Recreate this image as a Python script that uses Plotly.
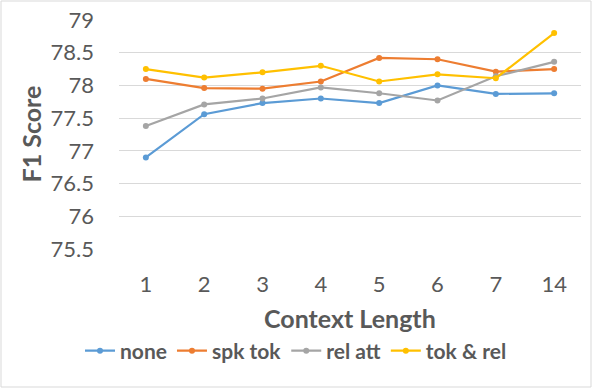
import plotly.graph_objects as go

# Context length categories (x axis is categorical: 14 sits right after 7)
context_lengths = ["1", "2", "3", "4", "5", "6", "7", "14"]

none_f1 = [76.90, 77.56, 77.73, 77.80, 77.73, 78.00, 77.87, 77.88]
spk_tok_f1 = [78.10, 77.96, 77.95, 78.06, 78.42, 78.40, 78.21, 78.25]
rel_att_f1 = [77.38, 77.71, 77.80, 77.97, 77.88, 77.77, 78.14, 78.36]
tok_rel_f1 = [78.25, 78.12, 78.20, 78.30, 78.06, 78.17, 78.11, 78.80]

y_ticks = [75.5, 76, 76.5, 77, 77.5, 78, 78.5, 79]

FONT = "Lato, 'Open Sans', sans-serif"
TEXT = "#595959"

W, H = 592, 388
L, R, T, B = 119, 11, 20, 139

series = [
    ("none", none_f1, "#5b9bd5"),
    ("spk tok", spk_tok_f1, "#ed7d31"),
    ("rel att", rel_att_f1, "#a5a5a5"),
    ("tok & rel", tok_rel_f1, "#ffc000"),
]

fig = go.Figure()
for name, vals, color in series:
    fig.add_trace(
        go.Scatter(
            x=context_lengths,
            y=vals,
            mode="lines+markers",
            name=name,
            line=dict(color=color, width=2.2),
            marker=dict(color=color, size=6),
        )
    )

fig.update_layout(
    width=W,
    height=H,
    paper_bgcolor="white",
    plot_bgcolor="white",
    margin=dict(l=L, r=R, t=T, b=B, autoexpand=False),
    font=dict(family=FONT, color=TEXT),
    showlegend=True,
    legend=dict(
        orientation="h",
        xref="container",
        yref="container",
        x=0.5,
        xanchor="center",
        y=1 - 351 / H,
        yanchor="middle",
        font=dict(size=21, family=FONT, color=TEXT, weight="bold"),
        itemwidth=30,
        tracegroupgap=0,
    ),
    shapes=[
        dict(
            type="rect", xref="paper", yref="paper",
            x0=-(L - 1) / (W - L - R), x1=1 + (R - 1) / (W - L - R),
            y0=-(B - 1) / (H - T - B), y1=1 + (T - 1) / (H - T - B),
            line=dict(color="#d9d9d9", width=1),
        )
    ],
    annotations=[
        dict(
            text="Context Length", xref="paper", yref="paper",
            x=0.5, y=-(318 - (H - B)) / (H - T - B),
            xanchor="center", yanchor="middle", showarrow=False,
            font=dict(size=25, family=FONT, color=TEXT, weight="bold"),
        ),
        dict(
            text="F1 Score", xref="paper", yref="paper",
            x=-(L - 30) / (W - L - R), y=0.5,
            xanchor="center", yanchor="middle", showarrow=False, textangle=-90,
            font=dict(size=25, family=FONT, color=TEXT, weight="bold"),
        ),
    ],
)

fig.update_xaxes(
    type="category",
    automargin=False,
    showgrid=False,
    showline=False,
    ticks="",
    ticklabelstandoff=20,
    tickfont=dict(size=22, family=FONT, color=TEXT),
)
fig.update_yaxes(
    range=[75.5, 79],
    automargin=False,
    tickvals=y_ticks,
    ticktext=[f"{v:g}" for v in y_ticks],
    showgrid=True,
    gridcolor="#d9d9d9",
    gridwidth=1,
    zeroline=False,
    showline=False,
    ticks="",
    ticklabelstandoff=24,
    tickfont=dict(size=22, family=FONT, color=TEXT),
)

# drop the default page margin so the fixed-size figure fills the window
fig.write_html(
    "out.html",
    config={"displayModeBar": False},
    post_script="document.body.style.margin='0';",
)
